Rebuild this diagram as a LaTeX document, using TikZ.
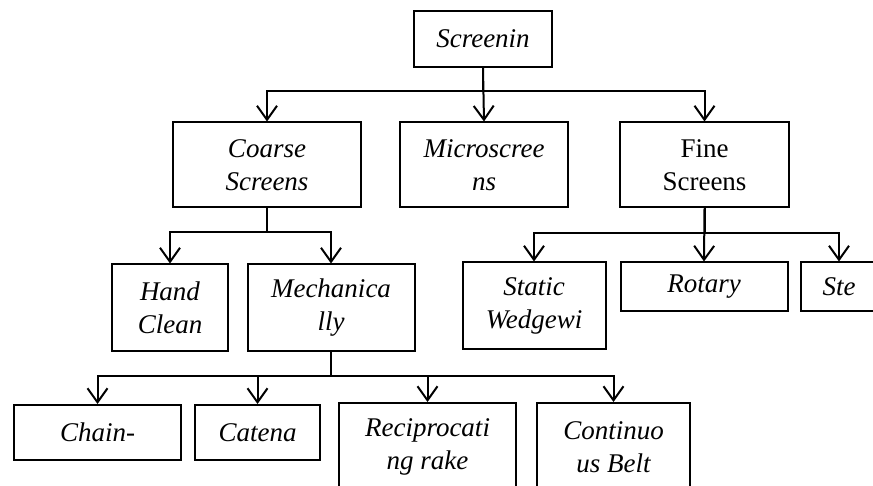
\documentclass[tikz,border=0pt]{standalone}
\usepackage{fontspec}
\setmainfont{Liberation Serif}
\usetikzlibrary{arrows.meta,positioning}

\begin{document}
\begin{tikzpicture}[
  x=0.5pt, y=-0.5pt,
  >={Straight Barb[length=7pt,width=10pt]},
  blk/.style={draw, line width=1pt, align=center, inner sep=2pt,
    font=\fontsize{13.5}{16.5}\selectfont\itshape},
  conn/.style={->, line width=1pt},
]
\clip (0,0) rectangle (873,486);
% nodes
\node[blk, minimum width=69pt, minimum height=28pt] (scr) at (483,39) {Screenin};
\node[blk, minimum width=94pt, minimum height=42.5pt] (coarse) at (267,165) {Coarse\\Screens};
\node[blk, minimum width=84pt, minimum height=42.5pt] (micro) at (484,165) {Microscree\\ns};
\node[blk, minimum width=84.5pt, minimum height=42.5pt, font=\fontsize{13.5}{16.5}\selectfont] (fine) at (704.5,165) {Fine\\Screens};
\node[blk, minimum width=58pt, minimum height=43.5pt] (hand) at (170,308) {Hand\\Clean};
\node[blk, minimum width=83.5pt, minimum height=43.5pt] (mech) at (331,308) {Mechanica\\lly};
\node[blk, minimum width=71.5pt, minimum height=43.5pt] (static) at (534,306) {Static\\Wedgewi};
\node[blk, minimum width=83.5pt, minimum height=24.5pt] (rotary) at (704,287) {Rotary};
\node[blk, minimum width=38pt, minimum height=24.5pt] (ste) at (839,287) {Ste};
\node[blk, minimum width=83.5pt, minimum height=27.5pt] (chain) at (97.5,432.5) {Chain-};
\node[blk, minimum width=62.5pt, minimum height=27.5pt] (catena) at (257.5,432.5) {Catena};
\node[blk, minimum width=88.5pt, minimum height=44pt] (recip) at (427.5,447) {Reciprocati\\ng rake};
\node[blk, minimum width=76.5pt, minimum height=44pt] (belt) at (613.5,447) {Continuo\\us Belt};
% edges
\draw[conn] (scr.south) -- ++(0,23) -| (coarse.north);
\draw[conn] (scr.south) -- (micro.north);
\draw[conn] (scr.south) -- ++(0,23) -| (fine.north);
\draw[conn] (coarse.south) -- ++(0,24) -| (hand.north);
\draw[conn] (coarse.south) -- ++(0,24) -| (mech.north);
\draw[conn] (fine.south) -- ++(0,25) -| (static.north);
\draw[conn] (fine.south) -- (rotary.north);
\draw[conn] (fine.south) -- ++(0,25) -| (ste.north);
\draw[conn] (mech.south) -- ++(0,23) -| (chain.north);
\draw[conn] (mech.south) -- ++(0,23) -| (catena.north);
\draw[conn] (mech.south) -- ++(0,23) -| (recip.north);
\draw[conn] (mech.south) -- ++(0,23) -| (belt.north);
\end{tikzpicture}
\end{document}
